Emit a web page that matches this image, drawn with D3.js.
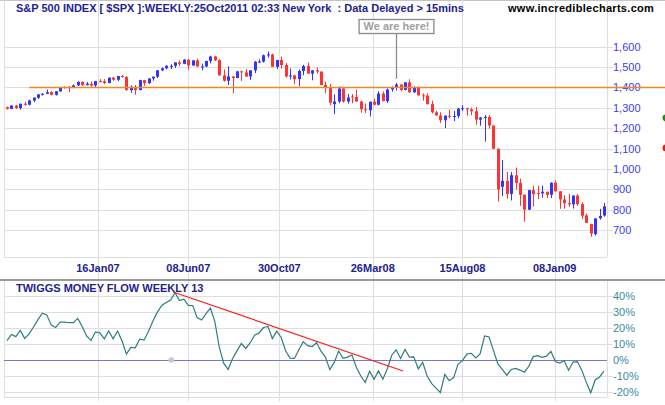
<!DOCTYPE html>
<html><head><meta charset="utf-8">
<script src="https://cdn.jsdelivr.net/npm/d3@7/dist/d3.min.js"></script>
<style>
body{margin:0;background:#fff;}
svg{display:block;font-family:"Liberation Sans",Arial,sans-serif;}
</style>
</head><body>
<svg id="chart" width="665" height="405"></svg>
<script>
// ---------------- DATA ----------------
const firstWeek = "2006-08-25"; // weekly bars (Fridays)
const opens = [1303,1295,1311,1299,1320,1315,1336,1349,1366,1369,1377,1364,1381,1402,1401,1397,1410,1427,1411,
1418,1410,1431,1430,1422,1448,1438,1456,1451,1387,1403,1387,1436,1421,1444,1453,1484,1494,1505,1506,1523,1516,1536,1508,1533,1502,1503,1530,1552,1534,1459,1433,1454,1446,1479,1474,1454,1484,1526,1527,1558,1562,1501,1535,1510,1454,1459,1441,1481,1505,1468,1484,
1478,1412,1401,1318,1331,1395,1331,1355,1353,1331,1293,1288,1330,1315,1370,1333,1390,1398,1414,1388,1425,1376,1400,1361,1360,1318,1278,1262,1239,1261,1258,1260,1296,1298,1292,1283,1242,1252,1255,1213,1099,912,941,877,969,931,873,800,896,882,880,888,
873,932,890,850,832,826,869,827,772,729,680,758,771];
const highs = [1306,1312,1314,1320,1329,1340,1350,1366,1372,1389,1382,1382,1404,1406,1408,1414,1431,1429,1427,
1429,1432,1441,1441,1449,1453,1456,1462,1456,1410,1412,1438,1437,1445,1453,1485,1498,1510,1514,1523,1532,1540,1540,1534,1541,1517,1531,1556,1555,1539,1488,1504,1456,1480,1482,1490,1485,1530,1538,1561,1576,1565,1535,1552,1520,1493,1462,1488,1511,1523,1486,1498,
1478,1429,1416,1366,1405,1397,1368,1367,1389,1335,1321,1330,1345,1381,1380,1395,1405,1422,1416,1426,1440,1406,1405,1371,1371,1335,1286,1278,1263,1291,1284,1300,1313,1300,1301,1304,1255,1265,1264,1214,1100,1044,985,984,1007,952,875,897,918,918,918,888,
934,943,891,871,877,870,876,835,780,731,758,804,833];
const lows = [1291,1293,1294,1291,1310,1312,1327,1343,1360,1367,1361,1360,1378,1394,1377,1396,1407,1409,1410,
1404,1397,1425,1416,1420,1433,1430,1448,1384,1374,1364,1386,1408,1417,1433,1446,1480,1489,1490,1496,1505,1514,1487,1505,1502,1484,1499,1518,1529,1458,1428,1412,1371,1446,1432,1451,1437,1471,1520,1522,1546,1500,1490,1492,1448,1439,1416,1406,1460,1467,1435,1468,
1411,1371,1313,1270,1322,1325,1321,1322,1330,1276,1274,1257,1312,1312,1332,1324,1379,1385,1382,1386,1373,1373,1360,1335,1316,1272,1260,1225,1200,1248,1235,1248,1284,1261,1264,1217,1212,1134,1197,1097,840,866,853,845,899,818,741,798,815,851,858,857,
857,888,804,805,814,805,818,754,734,667,673,751,765];
const closes = [1295,1311,1299,1320,1315,1336,1350,1366,1369,1377,1364,1381,1401,1401,1397,1410,1427,1411,1418,
1410,1431,1430,1422,1448,1438,1456,1451,1387,1403,1387,1436,1421,1444,1453,1484,1494,1506,1506,1523,1516,1536,1508,1533,1503,1503,1530,1552,1534,1459,1433,1454,1446,1479,1474,1454,1484,1526,1527,1558,1562,1501,1535,1510,1454,1459,1441,1481,1505,1468,1484,1478,
1412,1401,1325,1331,1395,1331,1350,1353,1331,1293,1288,1330,1315,1370,1333,1390,1398,1414,1388,1425,1376,1400,1361,1360,1318,1278,1263,1239,1261,1258,1260,1296,1298,1292,1283,1242,1252,1255,1213,1099,899,941,877,969,931,873,800,896,876,880,888,873,
932,890,850,832,826,869,827,770,735,683,757,769,816];
// Twiggs Money Flow (13 week), percent
const moneyFlow = [12.1,16,14.6,18.5,13.5,16.3,20.6,25.2,29.2,28.2,21.8,20.3,23.7,23.7,23.3,23.3,26,21,15,12.2,
17.6,17,13.2,18.2,13.3,18.1,12,3.7,7.9,7.6,13,12.4,18,24.4,29.9,34.1,35.9,37.5,42,37.1,
38,34.1,34,26.5,25,29,32.5,24,8,-2,-6,0.8,5.7,10.3,7.2,10.8,15.5,16.9,20.3,21,
13.4,18,14.1,5.8,1.2,1,6.4,11.5,9,8.4,10.8,5.5,1.8,-6,-1.5,5.6,1.1,1.8,3.1,-4.5,
-10,-14,-7,-12,-6.8,-12,-5.5,3,6.4,1,6.6,1.8,2,-5.6,-1.5,-10,-14.6,-17.6,-20.3,-9,
-12.9,-11,-2.5,-0.4,3.7,4.2,1.3,3.9,15,14.4,6,-2.4,-5.8,-9.5,-5.9,-5.2,-6.3,-7.6,-3.9,2.1,
2.7,1.7,2.4,5.4,-1,-1.9,-0.5,-6.4,-1.3,-1,-6.5,-14,-20.5,-12.5,-10.6,-7];
const dateLabels = ["16Jan07","08Jun07","30Oct07","26Mar08","15Aug08","08Jan09"];
const priceTicks = [700,800,900,1000,1100,1200,1300,1400,1500,1600];
const flowTicks = [40,30,20,10,0,-10,-20];
const titleText = "S&P 500 INDEX [ $SPX ]:WEEKLY:25Oct2011 02:33 New York  : Data Delayed > 15mins";
const siteText = "www.incrediblecharts.com";
const flowTitle = "TWIGGS MONEY FLOW WEEKLY 13";
const hLine = {date:"2006-09-29", price:1400};           // user-drawn horizontal line
const trendLine = [["2007-05-15", 42.5], ["2008-05-13", -6.9]];
const marker = {date:"2007-05-12", value:0};
const note = {date:"2008-05-02", price:1442, text:"We are here!"};
const sideDots = [{price:1250, color:"#1e8c1e"},{price:1103, color:"#e02020"}];

// ---------------- LAYOUT ----------------
const W = 665, H = 405;
const L = 4, R = 607;
const P = {top:0, bottom:257};       // price panel
const F = {top:280, bottom:397};     // money flow panel
const navy = "#22228f", grid = "#dedede";

const svg = d3.select("#chart");
const parseISO = d3.timeParse("%Y-%m-%d");
const parseLbl = d3.timeParse("%d%b%y");
const start = parseISO(firstWeek);
const weeks = closes.map((_, i) => d3.timeWeek.offset(start, i));
const bars = weeks.map((d, i) => ({date:d, o:opens[i], h:highs[i], l:lows[i], c:closes[i], f:moneyFlow[i]}));

const x = d3.scaleTime().domain([weeks[0], weeks[weeks.length-1]]).range([7, 604]);
const y = d3.scaleLinear().domain([700, 1600]).range([230, 46.7]);
const yf = d3.scaleLinear().domain([-20, 40]).range([392, 296]);

// top border
svg.append("line").attr("x1",0).attr("x2",W).attr("y1",0.5).attr("y2",0.5).attr("stroke","#c4c4c4");

// vertical grid lines at label dates
const lblDates = dateLabels.map(parseLbl);
svg.append("g").selectAll("line").data(lblDates).join("line")
  .attr("x1", d => Math.round(x(d))+0.5).attr("x2", d => Math.round(x(d))+0.5)
  .attr("y1", 0).attr("y2", 401).attr("stroke", grid);

// left border and right axis lines
[[L, P.top, P.bottom],[L, F.top, F.bottom],[R, P.top, P.bottom],[R, F.top, F.bottom]].forEach(([xx,a,b]) =>
  svg.append("line").attr("x1",xx+0.5).attr("x2",xx+0.5).attr("y1",a).attr("y2",b).attr("stroke",grid));

// price grid + labels
svg.append("g").selectAll("line").data(priceTicks).join("line")
  .attr("x1", L).attr("x2", 613).attr("y1", d => Math.round(y(d))+0.5).attr("y2", d => Math.round(y(d))+0.5)
  .attr("stroke", grid);
svg.append("line").attr("x1",L).attr("x2",R).attr("y1",P.bottom+0.5).attr("y2",P.bottom+0.5).attr("stroke",grid);
svg.append("g").selectAll("text").data(priceTicks).join("text")
  .attr("x", 613).attr("y", d => y(d)+4).attr("font-size", 11).attr("fill", "#3c3cf5")
  .text(d => d3.format(",")(d));

// date labels
svg.append("g").selectAll("text").data(dateLabels).join("text")
  .attr("x", (d,i) => x(lblDates[i])).attr("y", 272).attr("text-anchor","middle")
  .attr("font-size", 11).attr("font-weight","bold").attr("fill", navy).text(d => d);

// separator
svg.append("line").attr("x1",0).attr("x2",W).attr("y1",280).attr("y2",280).attr("stroke","#9a9a9a").attr("stroke-width",2);

// candles
const cg = svg.append("g");
bars.forEach(b => {
  const cx = Math.round(x(b.date));
  const up = b.c >= b.o;
  const col = up ? "#3333ff" : "#ff3333";
  cg.append("line").attr("x1",cx+0.5).attr("x2",cx+0.5).attr("y1",y(b.h)).attr("y2",y(b.l)).attr("stroke",col);
  const top = y(Math.max(b.o,b.c)), bot = y(Math.min(b.o,b.c));
  cg.append("rect").attr("x",cx-1).attr("width",3).attr("y",top).attr("height",Math.max(1,bot-top)).attr("fill",col);
});

// horizontal user line
svg.append("line").attr("x1", x(parseISO(hLine.date))).attr("x2", W)
  .attr("y1", Math.round(y(hLine.price))+0.5).attr("y2", Math.round(y(hLine.price))+0.5)
  .attr("stroke", "#ee8a2a").attr("stroke-width", 1.3);

// side dots
svg.append("g").selectAll("circle").data(sideDots).join("circle")
  .attr("cx", 666).attr("cy", d => y(d.price)).attr("r", 3.5).attr("fill", d => d.color);

// annotation
const nx = Math.round(x(parseISO(note.date)))+0.5;
svg.append("line").attr("x1",nx).attr("x2",nx).attr("y1",33).attr("y2",y(note.price)).attr("stroke","#8a8a8a").attr("stroke-width",1.3);
const ng = svg.append("g");
const nbox = ng.append("rect");
const nt = ng.append("text").attr("x",nx).attr("y",30).attr("text-anchor","middle")
  .attr("font-size",11).attr("font-weight","bold").attr("fill","#a0a0a0").text(note.text);
const bb = nt.node().getBBox();
nbox.attr("x", bb.x-4.5).attr("y", 19.5).attr("width", bb.width+9).attr("height", 14)
  .attr("fill","#fff").attr("stroke","#8a8a8a").attr("stroke-width",1.3);

// titles
svg.append("text").attr("x",16).attr("y",12).attr("font-size",11).attr("font-weight","bold").attr("fill",navy)
  .attr("xml:space","preserve").style("white-space","pre").text(titleText);
svg.append("text").attr("x",508).attr("y",12).attr("font-size",11).attr("font-weight","bold").attr("fill","#000")
  .attr("letter-spacing",0.3).text(siteText);

// money flow panel grid
svg.append("g").selectAll("line").data(flowTicks.filter(d => d !== 0)).join("line")
  .attr("x1", L).attr("x2", 613).attr("y1", d => Math.round(yf(d))+0.5).attr("y2", d => Math.round(yf(d))+0.5)
  .attr("stroke", grid);
svg.append("line").attr("x1",L).attr("x2",R).attr("y1",F.bottom+0.5).attr("y2",F.bottom+0.5).attr("stroke",grid);
svg.append("line").attr("x1",L).attr("x2",R).attr("y1",Math.round(yf(0))+0.5).attr("y2",Math.round(yf(0))+0.5).attr("stroke","#7a78cc").attr("stroke-width",1.2);
svg.append("g").selectAll("text").data(flowTicks).join("text")
  .attr("x", 613).attr("y", d => yf(d)+4).attr("font-size", 11).attr("fill", "#3a8a9e")
  .text(d => d + "%");

svg.append("text").attr("x",16).attr("y",292).attr("font-size",11).attr("font-weight","bold").attr("fill",navy).text(flowTitle);

// marker dot
svg.append("circle").attr("cx", x(parseISO(marker.date))).attr("cy", yf(marker.value)).attr("r", 2.8).attr("fill","#c8c8c8");

// money flow line
svg.append("path").datum(bars).attr("fill","none").attr("stroke","#2f7d7a").attr("stroke-width",1.2)
  .attr("d", d3.line().x(d => x(d.date)).y(d => yf(d.f)));

// trend line
svg.append("line")
  .attr("x1", x(parseISO(trendLine[0][0]))).attr("y1", yf(trendLine[0][1]))
  .attr("x2", x(parseISO(trendLine[1][0]))).attr("y2", yf(trendLine[1][1]))
  .attr("stroke","#ff1a1a").attr("stroke-width",1.2);
</script>
</body></html>
